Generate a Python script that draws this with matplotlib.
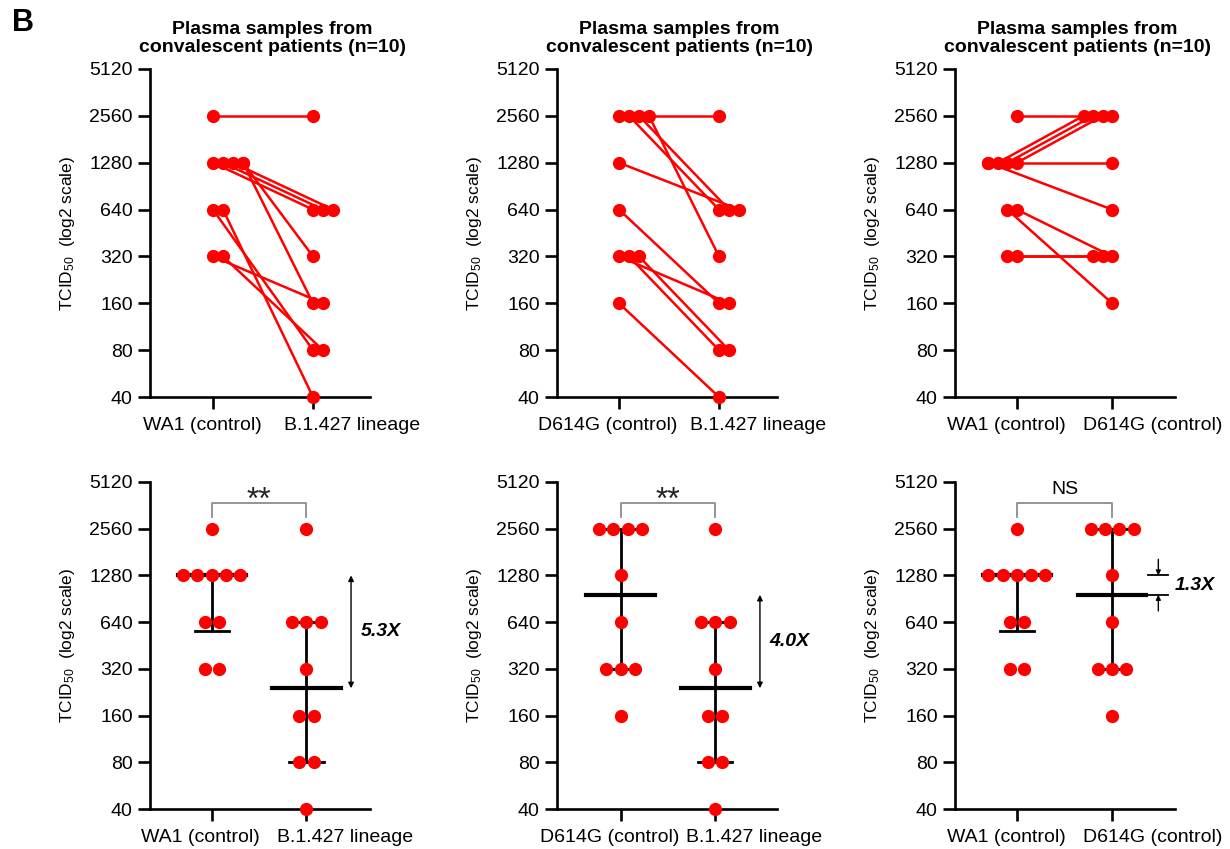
import numpy as np
import matplotlib
matplotlib.use("Agg")
import matplotlib.pyplot as plt
import matplotlib.transforms as mtrans
from matplotlib.ticker import FixedLocator, FixedFormatter, NullLocator

plt.rcParams["font.family"] = ["Liberation Sans", "DejaVu Sans"]
plt.rcParams["mathtext.fontset"] = "custom"
plt.rcParams["mathtext.rm"] = "Liberation Sans"
plt.rcParams["mathtext.it"] = "Liberation Sans:italic"
plt.rcParams["mathtext.bf"] = "Liberation Sans:bold"

TICKS = [40, 80, 160, 320, 640, 1280, 2560, 5120]
TITLE = "Plasma samples from\nconvalescent patients (n=10)"
YLABEL = "TCID$_{50}$  (log2 scale)"
RED = "#ff0000"

# paired titers, same index = same patient
wa1_vs_b = [2560, 1280, 1280, 1280, 1280, 1280, 640, 640, 320, 320]
b1427_vs_wa1 = [2560, 640, 640, 640, 320, 160, 80, 40, 160, 80]

d614g_vs_b = [2560, 2560, 2560, 2560, 1280, 640, 320, 320, 320, 160]
b1427_vs_d614g = [2560, 640, 640, 320, 640, 160, 160, 80, 80, 40]

wa1_vs_d = [2560, 1280, 1280, 1280, 1280, 1280, 640, 640, 320, 320]
d614g_vs_wa1 = [2560, 2560, 2560, 2560, 1280, 640, 320, 160, 320, 320]

labels_1 = ["WA1 (control)", "B.1.427 lineage"]
labels_2 = ["D614G (control)", "B.1.427 lineage"]
labels_3 = ["WA1 (control)", "D614G (control)"]
signif = ["**", "**", "NS"]

panels = [
    (labels_1, wa1_vs_b, b1427_vs_wa1, signif[0], 1),
    (labels_2, d614g_vs_b, b1427_vs_d614g, signif[1], 1),
    (labels_3, wa1_vs_d, d614g_vs_wa1, signif[2], -1),
]

W, H = 1230, 849
lefts = [150, 557, 955]
xlims_top = [(-0.63, 1.57), (-0.62, 1.58), (-0.65, 1.66)]
xlims_bot = [(-0.65, 1.67), (-0.67, 1.65), (-0.65, 1.66)]
fig = plt.figure(figsize=(W / 100, H / 100), dpi=100)


def style(ax, labels, xlim):
    ax.set_yscale("log", base=2)
    ax.set_ylim(40, 5120)
    ax.set_xlim(*xlim)
    ax.yaxis.set_major_locator(FixedLocator(TICKS))
    ax.yaxis.set_major_formatter(FixedFormatter([str(t) for t in TICKS]))
    ax.yaxis.set_minor_locator(NullLocator())
    ax.set_xticks([0, 1])
    for s in ["top", "right"]:
        ax.spines[s].set_visible(False)
    for s in ["left", "bottom"]:
        ax.spines[s].set_linewidth(1.9)
    ax.tick_params(width=1.9, length=8.5, labelsize=14, pad=4, color="black")
    ax.tick_params(axis="x", labelbottom=False)
    ax.set_ylabel(YLABEL, fontsize=12.5, labelpad=9)
    # category labels sit like in the original figure: first a bit left,
    # second starting just left of its tick
    trans = mtrans.blended_transform_factory(ax.transData, ax.transAxes)
    ax.text(0, 0, labels[0], fontsize=14, ha="center", va="top",
            transform=trans + mtrans.ScaledTranslation(-11 / 100, -20 / 100, fig.dpi_scale_trans))
    ax.text(1, 0, labels[1], fontsize=14, ha="left", va="top",
            transform=trans + mtrans.ScaledTranslation(-29 / 100, -20 / 100, fig.dpi_scale_trans))


def spread_top(vals, direction):
    offs = np.zeros(len(vals))
    seen = {}
    for i, v in enumerate(vals):
        k = seen.get(v, 0)
        offs[i] = direction * 0.1 * min(k, 3)
        seen[v] = k + 1
    return offs


def spread_bottom(vals, step=0.15):
    vals = np.asarray(vals)
    offs = np.zeros(len(vals))
    for v in np.unique(vals):
        idx = np.where(vals == v)[0]
        offs[idx] = (np.arange(len(idx)) - (len(idx) - 1) / 2) * step
    return offs


for col, (labels, a, b, sig, d) in enumerate(panels):
    left = lefts[col] / W
    # --- paired plot (top row)
    ax = fig.add_axes([left, 1 - 397 / H, 220 / W, 328 / H])
    style(ax, labels, xlims_top[col])
    xa = 0 + spread_top(a, d)
    xb = 1 + spread_top(b, d)
    for i in range(len(a)):
        ax.plot([xa[i], xb[i]], [a[i], b[i]], color=RED, lw=1.8,
                marker="o", ms=8.5, clip_on=False, zorder=3)
    ax.text(0.555, 1.04, TITLE, transform=ax.transAxes, ha="center",
            va="bottom", fontsize=14, fontweight="bold", linespacing=1.05)

    # --- median + IQR plot (bottom row)
    ax = fig.add_axes([left, 1 - 809 / H, 220 / W, 327 / H])
    style(ax, labels, xlims_bot[col])
    meds = []
    for x, vals in [(0, a), (1, b)]:
        q1, med, q3 = np.percentile(vals, [25, 50, 75], method="weibull")
        meds.append(med)
        ax.plot([x, x], [q1, q3], color="black", lw=2, zorder=2, solid_capstyle="butt")
        ax.plot([x - 0.18, x + 0.18], [q1, q1], color="black", lw=2, zorder=2)
        ax.plot([x - 0.18, x + 0.18], [q3, q3], color="black", lw=2, zorder=2)
        ax.plot([x - 0.36, x + 0.36], [med, med], color="black", lw=3, zorder=2)
        ax.plot(x + spread_bottom(vals), vals, "o", color=RED, ms=8.5,
                clip_on=False, zorder=3)

    # significance bracket
    ax.plot([0, 0, 1, 1], [3050, 3750, 3750, 3050], color="#8c8c8c", lw=1.3,
            clip_on=False)
    if sig == "NS":
        ax.text(0.5, 4300, sig, ha="center", va="baseline", fontsize=14)
    else:
        ax.text(0.5, 3450, sig, ha="center", va="baseline", fontsize=23,
                color="#222222")

    # fold change between medians
    m1, m2 = meds
    fold = "%.1fX" % (m1 / m2)
    mid = np.sqrt(m1 * m2)
    if np.log2(m1 / m2) > 1:
        ax.annotate("", xy=(1.47, m2), xytext=(1.47, m1),
                    arrowprops=dict(arrowstyle="<|-|>", lw=1, color="black",
                                    mutation_scale=8, shrinkA=0, shrinkB=0),
                    annotation_clip=False)
        ax.text(1.57, mid, fold, ha="left", va="center", fontsize=14,
                fontweight="bold", style="italic")
    else:
        ax.plot([1.38, 1.59], [m1, m1], color="black", lw=1.3, clip_on=False)
        ax.plot([1.38, 1.59], [m2, m2], color="black", lw=1.3, clip_on=False)
        ax.annotate("", xy=(1.485, m1), xytext=(1.485, m1 * 1.27),
                    arrowprops=dict(arrowstyle="-|>", lw=1, color="black",
                                    mutation_scale=7, shrinkA=0, shrinkB=0),
                    annotation_clip=False)
        ax.annotate("", xy=(1.485, m2), xytext=(1.485, m2 / 1.27),
                    arrowprops=dict(arrowstyle="-|>", lw=1, color="black",
                                    mutation_scale=7, shrinkA=0, shrinkB=0),
                    annotation_clip=False)
        ax.text(1.66, mid, fold, ha="left", va="center", fontsize=14,
                fontweight="bold", style="italic")

fig.text(12 / W, 1 - 8 / H, "B", ha="left", va="top", fontsize=22,
         fontweight="bold")

fig.savefig("out.png", dpi=100)
